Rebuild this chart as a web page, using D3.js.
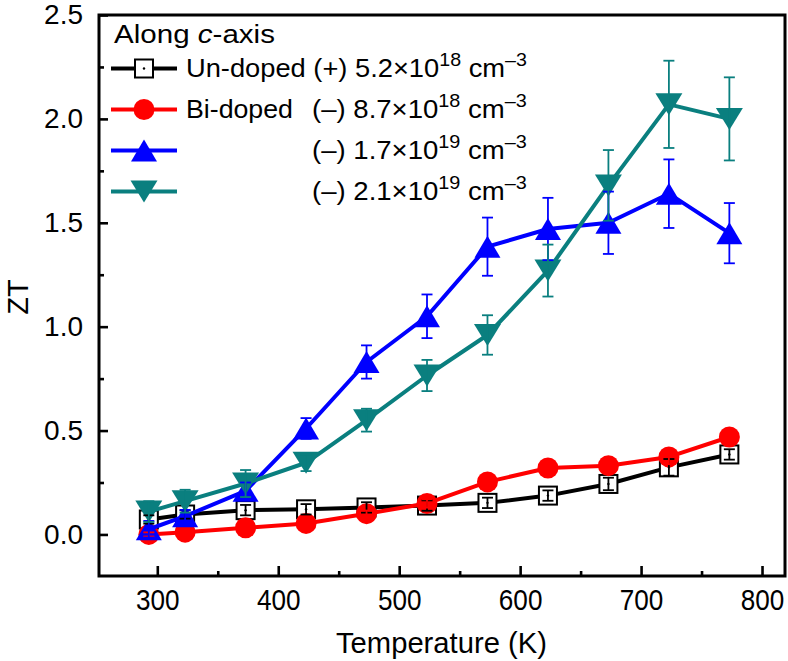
<!DOCTYPE html>
<html>
<head>
<meta charset="utf-8">
<script src="https://cdn.jsdelivr.net/npm/d3@7/dist/d3.min.js"></script>
<style>
  html, body { margin: 0; padding: 0; background: #fff; }
  svg { display: block; font-family: "Liberation Sans", Arial, sans-serif; }
</style>
</head>
<body>
<svg id="chart" width="788" height="661"></svg>
<script>
// ---------------- data ----------------
const temperatures = [293, 323, 373, 423, 473, 523, 573, 623, 673, 723, 773];

const ztUndoped = [0.072, 0.096, 0.117, 0.121, 0.130, 0.139, 0.152, 0.187, 0.243, 0.323, 0.385];
const errUndoped = [0.020, 0.020, 0.025, 0.025, 0.025, 0.025, 0.025, 0.025, 0.030, 0.040, 0.025];

const ztBi87 = [0.000, 0.011, 0.032, 0.053, 0.100, 0.149, 0.253, 0.320, 0.331, 0.373, 0.469];
const errBi87 = [0.010, 0.010, 0.010, 0.010, 0.015, 0.020, 0.030, 0.030, 0.030, 0.035, 0.035];

const ztBi17 = [0.025, 0.088, 0.210, 0.510, 0.830, 1.050, 1.385, 1.470, 1.500, 1.640, 1.450];
const errBi17 = [0.040, 0.030, 0.040, 0.050, 0.080, 0.105, 0.140, 0.150, 0.150, 0.165, 0.145];

const ztBi21 = [0.110, 0.160, 0.245, 0.345, 0.550, 0.765, 0.960, 1.270, 1.680, 2.070, 2.000];
const errBi21 = [0.050, 0.055, 0.065, 0.040, 0.055, 0.075, 0.095, 0.125, 0.170, 0.210, 0.200];

const xMajorTicks = [300, 400, 500, 600, 700, 800];
const xMinorTicks = [350, 450, 550, 650, 750];
const yMajorTicks = [0.0, 0.5, 1.0, 1.5, 2.0, 2.5];
const yMinorTicks = [0.25, 0.75, 1.25, 1.75, 2.25];

const legendTitle = ["Along ", "c", "-axis"];
const legendSample = ["Un-doped", "Bi-doped", "", ""];
const legendCarrier = [
  {sign: "(+)", mant: "5.2", exp: "18"},
  {sign: "(–)", mant: "8.7", exp: "18"},
  {sign: "(–)", mant: "1.7", exp: "19"},
  {sign: "(–)", mant: "2.1", exp: "19"}
];

const seriesColors = ["#000000", "#ff0000", "#0000ff", "#0a7f7f"];
const seriesMarkers = ["square", "circle", "up", "down"];

const series = [
  {values: ztUndoped, errors: errUndoped},
  {values: ztBi87, errors: errBi87},
  {values: ztBi17, errors: errBi17},
  {values: ztBi21, errors: errBi21}
].map((s, i) => ({...s, color: seriesColors[i], marker: seriesMarkers[i]}));

// ---------------- layout ----------------
const frame = {left: 99, right: 785, top: 15, bottom: 576};
const svg = d3.select("#chart");

const x = d3.scaleLinear().domain([251.8, 819]).range([frame.left, frame.right]);
const y = d3.scaleLinear().domain([-0.2, 2.5]).range([frame.bottom, frame.top]);

// ---------------- axes ----------------
const gx = svg.append("g").attr("transform", `translate(0,${frame.bottom})`);
gx.call(d3.axisBottom(x).tickValues(xMajorTicks).tickSize(-10).tickPadding(12).tickFormat(d3.format("d")));
const gxm = svg.append("g").attr("transform", `translate(0,${frame.bottom})`);
gxm.call(d3.axisBottom(x).tickValues(xMinorTicks).tickSize(-5).tickFormat(""));

const gy = svg.append("g").attr("transform", `translate(${frame.left},0)`);
gy.call(d3.axisLeft(y).tickValues(yMajorTicks).tickSize(-9).tickPadding(16).tickFormat(d3.format(".1f")));
const gym = svg.append("g").attr("transform", `translate(${frame.left},0)`);
gym.call(d3.axisLeft(y).tickValues(yMinorTicks).tickSize(-5).tickFormat(""));

[gx, gxm, gy, gym].forEach(g => {
  g.select(".domain").remove();
  g.selectAll(".tick line").attr("stroke", "#000").attr("stroke-width", 2.6);
});
gx.selectAll(".tick text")
  .attr("font-family", "'Liberation Sans', Arial, sans-serif")
  .attr("font-size", 30).attr("fill", "#000")
  .attr("dy", null).attr("y", 0)
  .attr("transform", "translate(0,34) scale(0.87,1)");
gy.selectAll(".tick text")
  .attr("font-family", "'Liberation Sans', Arial, sans-serif")
  .attr("font-size", 28).attr("fill", "#000");

// axis titles
const xTitle = svg.append("text")
  .attr("font-size", 30).attr("text-anchor", "start")
  .text("Temperature (K)");
fitText(xTitle, 336, 547, 653);

svg.append("text")
  .attr("font-size", 29).attr("text-anchor", "middle")
  .attr("transform", "translate(28,297) rotate(-90)")
  .text("ZT");

// ---------------- marker helpers ----------------
function markerPath(kind) {
  if (kind === "up") {
    const w = 26, h = 22;
    return `M0,${-h / 2}L${w / 2},${h / 2}L${-w / 2},${h / 2}Z`;
  }
  if (kind === "down") {
    const w = 27, h = 22;
    return `M0,${h / 2}L${w / 2},${-h / 2}L${-w / 2},${-h / 2}Z`;
  }
  return null;
}

function drawMarker(g, kind, color) {
  if (kind === "square") {
    g.append("rect").attr("x", -9).attr("y", -9).attr("width", 18).attr("height", 18)
      .attr("fill", "#fff").attr("stroke", color).attr("stroke-width", 2);
    g.append("circle").attr("r", 1.2).attr("fill", color);
  } else if (kind === "circle") {
    g.append("circle").attr("r", 10.5).attr("fill", color);
  } else {
    g.append("path").attr("d", markerPath(kind)).attr("fill", color);
  }
}

// ---------------- series ----------------
const line = d3.line().x((d, i) => x(temperatures[i])).y(d => y(d));

series.forEach(s => {
  const g = svg.append("g");
  g.append("path").datum(s.values)
    .attr("d", line).attr("fill", "none")
    .attr("stroke", s.color).attr("stroke-width", 4).attr("stroke-linejoin", "round");
  g.selectAll("g.pt").data(s.values).join("g")
    .attr("class", "pt")
    .attr("transform", (d, i) => `translate(${x(temperatures[i])},${y(d)})`)
    .each(function () { drawMarker(d3.select(this), s.marker, s.color); });
});

// error bars on top
series.forEach(s => {
  const g = svg.append("g").attr("stroke", s.color).attr("stroke-width", 1.8).attr("fill", "none");
  s.values.forEach((v, i) => {
    const cx = x(temperatures[i]);
    const y1 = y(v + s.errors[i]), y0 = y(v - s.errors[i]);
    g.append("line").attr("x1", cx).attr("x2", cx).attr("y1", y1).attr("y2", y0);
    g.append("line").attr("x1", cx - 5.5).attr("x2", cx + 5.5).attr("y1", y1).attr("y2", y1);
    g.append("line").attr("x1", cx - 5.5).attr("x2", cx + 5.5).attr("y1", y0).attr("y2", y0);
  });
});

// ---------------- legend ----------------
const titleText = svg.append("text").attr("font-size", 26);
titleText.append("tspan").text(legendTitle[0]);
titleText.append("tspan").attr("font-style", "italic").text(legendTitle[1]);
titleText.append("tspan").text(legendTitle[2]);
fitText(titleText, 114, 275, 43);

const rowY = [68.5, 109.5, 150.5, 191.5];
const rowBase = [76.5, 118, 159, 200];
series.forEach((s, i) => {
  const g = svg.append("g");
  g.append("line").attr("x1", 111).attr("x2", 177).attr("y1", rowY[i]).attr("y2", rowY[i])
    .attr("stroke", s.color).attr("stroke-width", 4);
  const mg = g.append("g").attr("transform", `translate(144,${rowY[i]})`);
  drawMarker(mg, s.marker, s.color);

  const c = legendCarrier[i];
  const t = g.append("text").attr("font-size", 25);
  t.append("tspan").text(i === 0 ? `${legendSample[i]} ${c.sign} ${c.mant}×10` : `${c.sign} ${c.mant}×10`);
  t.append("tspan").attr("font-size", 18).attr("dy", -11).text(c.exp);
  t.append("tspan").attr("dy", 11).text(" cm");
  t.append("tspan").attr("font-size", 18).attr("dy", -11).text("–3");
  if (i === 0) {
    fitText(t, 186, 527, rowBase[i]);
  } else {
    if (legendSample[i]) {
      const ts = g.append("text").attr("font-size", 25).text(legendSample[i]);
      fitText(ts, 186, 293, rowBase[i]);
    }
    fitText(t, 312, 527, rowBase[i]);
  }
});

// ---------------- frame ----------------
svg.append("rect")
  .attr("x", frame.left).attr("y", frame.top)
  .attr("width", frame.right - frame.left).attr("height", frame.bottom - frame.top)
  .attr("fill", "none").attr("stroke", "#000").attr("stroke-width", 3);

function fitText(sel, x0, x1, baseline) {
  sel.attr("x", 0).attr("y", 0).attr("text-anchor", "start").attr("fill", "#000");
  const w = sel.node().getBBox().width;
  const sx = w > 0 ? (x1 - x0) / w : 1;
  sel.attr("transform", `translate(${x0},${baseline}) scale(${sx},1)`);
}
</script>
</body>
</html>
